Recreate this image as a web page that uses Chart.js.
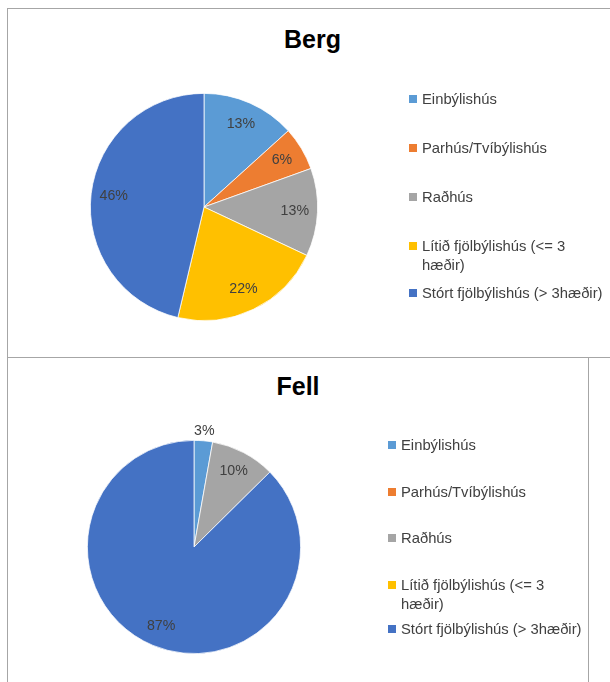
<!DOCTYPE html>
<html><head><meta charset="utf-8">
<script src="https://cdn.jsdelivr.net/npm/chart.js@4/dist/chart.umd.min.js"></script>
<style>
html,body{margin:0;padding:0;background:#fff;width:610px;height:682px;overflow:hidden;font-family:"Liberation Sans",Arial,sans-serif;}
.box{position:absolute;border:1px solid #a6a6a6;box-sizing:border-box;}
.title{position:absolute;font-weight:bold;font-size:25px;line-height:25px;color:#000;text-align:center;white-space:nowrap;}
canvas{position:absolute;}
.leg{position:absolute;font-size:14.8px;line-height:19px;color:#404040;white-space:nowrap;}
.sw{position:absolute;width:8px;height:8px;}
</style></head><body>
<div class="box" style="left:7px;top:8px;width:620px;height:350px;"></div>
<div class="box" style="left:7px;top:357px;width:582px;height:400px;"></div>
<div class="title" id="t1" style="left:212px;top:27px;width:201px;"></div>
<div class="title" id="t2" style="left:198px;top:374px;width:200px;"></div>
<canvas id="c1" width="610" height="349" style="left:0;top:8px;width:610px;height:349px;"></canvas>
<canvas id="c2" width="610" height="325" style="left:0;top:357px;width:610px;height:325px;"></canvas>
<div id="legends"></div>
<script>
// ---- data ----
const titles = ['Berg', 'Fell'];
const categories = ['Einbýlishús', 'Parhús/Tvíbýlishús', 'Raðhús', ['Lítið fjölbýlishús (<= 3', 'hæðir)'], 'Stórt fjölbýlishús (> 3hæðir)'];
const bergValues = [13.3, 6.2, 12.5, 21.7, 46.3];
const fellValues = [2.8, 0, 9.8, 0, 87.4];

// ---- style ----
const colors = ['#5B9BD5', '#ED7D31', '#A5A5A5', '#FFC000', '#4472C4'];

const pctLabels = {
  id: 'pctLabels',
  afterDatasetsDraw(chart) {
    const ctx = chart.ctx;
    const ds = chart.data.datasets[0];
    const meta = chart.getDatasetMeta(0);
    const total = ds.data.reduce((a, b) => a + b, 0);
    ctx.save();
    ctx.font = '14.2px "Liberation Sans", Arial, sans-serif';
    ctx.fillStyle = '#404040';
    ctx.textAlign = 'center';
    ctx.textBaseline = 'middle';
    meta.data.forEach((arc, i) => {
      const v = ds.data[i];
      if (!v) return;
      const p = Math.round(v / total * 100);
      const pr = arc.getProps(['x', 'y', 'startAngle', 'endAngle', 'outerRadius'], true);
      const mid = (pr.startAngle + pr.endAngle) / 2;
      const r = p < 5 ? pr.outerRadius + 10 : pr.outerRadius * 0.8;
      ctx.fillText(p + '%', pr.x + Math.cos(mid) * r, pr.y + Math.sin(mid) * r);
    });
    ctx.restore();
  }
};

function makePie(id, values, padding) {
  return new Chart(document.getElementById(id), {
    type: 'pie',
    data: {
      labels: categories,
      datasets: [{ data: values, backgroundColor: colors, borderColor: '#ffffff', borderWidth: 0.75 }]
    },
    options: {
      responsive: false,
      animation: false,
      layout: { padding: padding },
      plugins: { legend: { display: false }, tooltip: { enabled: false } }
    },
    plugins: [pctLabels]
  });
}

makePie('c1', bergValues, { left: 90, right: 292, top: 85, bottom: 36 });
makePie('c2', fellValues, { left: 87, right: 309, top: 83, bottom: 28 });

document.getElementById('t1').textContent = titles[0];
document.getElementById('t2').textContent = titles[1];

// ---- legends (HTML) ----
const legendLayouts = [
  { sx: 409, tx: 422, rows: [99, 148, 197, 246, 293] },
  { sx: 388, tx: 401, rows: [445, 492, 538, 585, 629] }
];
const legRoot = document.getElementById('legends');
legendLayouts.forEach(L => {
  categories.forEach((cat, i) => {
    const cy = L.rows[i];
    const sw = document.createElement('div');
    sw.className = 'sw';
    sw.style.left = L.sx + 'px';
    sw.style.top = (cy - 4) + 'px';
    sw.style.background = colors[i];
    legRoot.appendChild(sw);
    const t = document.createElement('div');
    t.className = 'leg';
    t.style.left = L.tx + 'px';
    t.style.top = (cy - 9.5) + 'px';
    const lines = Array.isArray(cat) ? cat : [cat];
    lines.forEach((ln, k) => {
      if (k) t.appendChild(document.createElement('br'));
      t.appendChild(document.createTextNode(ln));
    });
    legRoot.appendChild(t);
  });
});
</script>
</body></html>
